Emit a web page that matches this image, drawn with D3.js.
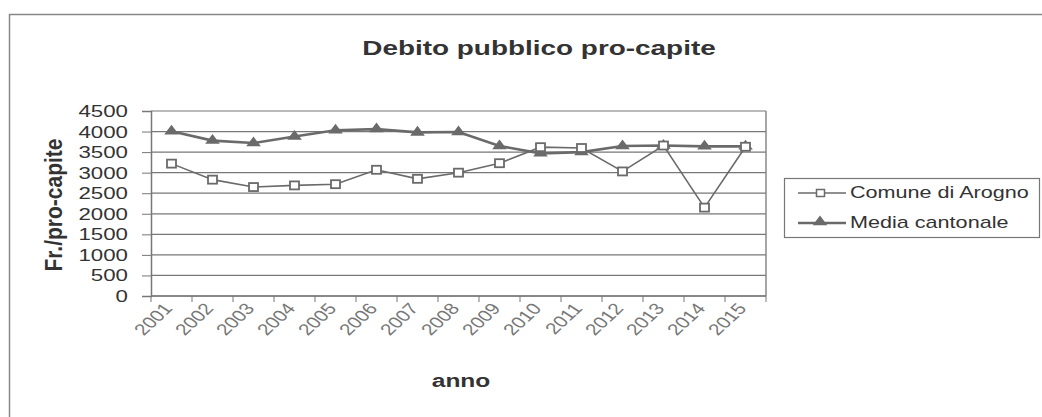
<!DOCTYPE html>
<html>
<head>
<meta charset="utf-8">
<script src="https://cdn.jsdelivr.net/npm/d3@7"></script>
<style>
  body { margin: 0; background: #fff; }
  svg { display: block; font-family: "Liberation Sans", Arial, sans-serif; }
</style>
</head>
<body>
<svg width="1042" height="417"></svg>
<script>
const years = ['2001','2002','2003','2004','2005','2006','2007','2008','2009','2010','2011','2012','2013','2014','2015'];
const arogno = [3220, 2830, 2650, 2690, 2720, 3070, 2850, 3000, 3230, 3620, 3600, 3030, 3660, 2150, 3630];
const media = [4010, 3780, 3720, 3880, 4030, 4060, 3980, 3990, 3650, 3470, 3500, 3650, 3660, 3640, 3640];
const yTicks = [0, 500, 1000, 1500, 2000, 2500, 3000, 3500, 4000, 4500];

const svg = d3.select('svg');
const margin = { left: 151, right: 276, top: 111, bottom: 121 };
const width = 1042 - margin.left - margin.right;
const height = 417 - margin.top - margin.bottom;
const ink = '#6a6a6a';
const stretch = 1.33; // the source text is wide, like a scanned page

// text inside a scaled group so glyphs come out wider than tall
function wideText(parent, x, y, sx, rot) {
  return parent.append('g')
    .attr('transform', `translate(${x},${y}) scale(${sx},1) rotate(${rot || 0})`)
    .append('text');
}

// outer chart frame (runs off the right and bottom edges)
svg.append('rect')
  .attr('x', 9.5).attr('y', 14.5)
  .attr('width', 1100).attr('height', 500)
  .attr('fill', 'none').attr('stroke', '#888').attr('stroke-width', 1.5);

wideText(svg, 539, 55, stretch)
  .attr('text-anchor', 'middle')
  .attr('font-size', 21).attr('font-weight', 'bold').attr('fill', '#333')
  .text('Debito pubblico pro-capite');

const g = svg.append('g').attr('transform', `translate(${margin.left},${margin.top})`);

const x = d3.scaleBand().domain(years).range([0, width]);
const y = d3.scaleLinear().domain([0, 4500]).range([height, 0]);

// gridlines
g.selectAll('.grid').data(yTicks).enter().append('line')
  .attr('x1', 0).attr('x2', width)
  .attr('y1', d => y(d)).attr('y2', d => y(d))
  .attr('stroke', '#777').attr('stroke-width', 1.2);

// plot border right side
g.append('line')
  .attr('x1', width).attr('x2', width).attr('y1', 0).attr('y2', height)
  .attr('stroke', '#888').attr('stroke-width', 1.5);

// y axis (labels drawn separately so they can be widened)
const yAxis = g.append('g')
  .call(d3.axisLeft(y).tickValues(yTicks).tickSize(9).tickFormat(''));
yAxis.select('.domain').attr('stroke', '#777').attr('stroke-width', 1.5);
yAxis.selectAll('.tick line').attr('stroke', '#777');
yTicks.forEach(d => {
  wideText(g, -23, y(d), 1.35)
    .attr('text-anchor', 'end').attr('dy', '0.36em')
    .attr('font-size', 16.5).attr('fill', '#333')
    .text(d3.format('d')(d));
});

// x axis: ticks at category boundaries
const xAxis = g.append('g').attr('transform', `translate(0,${height})`);
xAxis.append('line')
  .attr('x1', 0).attr('x2', width)
  .attr('stroke', '#777').attr('stroke-width', 1.5);
xAxis.selectAll('.xt').data(d3.range(years.length + 1)).enter().append('line')
  .attr('x1', i => i * x.bandwidth()).attr('x2', i => i * x.bandwidth())
  .attr('y1', 0).attr('y2', 6)
  .attr('stroke', '#777');
years.forEach(d => {
  wideText(xAxis, x(d) + x.bandwidth() / 2 + 2, 13, 1.3, -50)
    .attr('text-anchor', 'end')
    .attr('font-size', 16).attr('fill', '#777')
    .text(d);
});

wideText(svg, 461, 387, 1.29)
  .attr('text-anchor', 'middle')
  .attr('font-size', 19).attr('font-weight', 'bold').attr('fill', '#333')
  .text('anno');

wideText(svg, 62, 205, 1.15, -90)
  .attr('text-anchor', 'middle')
  .attr('font-size', 21).attr('font-weight', 'bold').attr('fill', '#333')
  .text('Fr./pro-capite');

const line = d3.line()
  .x((d, i) => x(years[i]) + x.bandwidth() / 2)
  .y(d => y(d));

g.append('path').datum(media)
  .attr('d', line).attr('fill', 'none')
  .attr('stroke', ink).attr('stroke-width', 2.6);
g.append('path').datum(arogno)
  .attr('d', line).attr('fill', 'none')
  .attr('stroke', ink).attr('stroke-width', 1.6);

const tri = d3.symbol().type(d3.symbolTriangle).size(55);
g.selectAll('.tri').data(media).enter().append('path')
  .attr('d', tri)
  .attr('transform', (d, i) => `translate(${x(years[i]) + x.bandwidth() / 2},${y(d)}) scale(1.3,1)`)
  .attr('fill', ink);

g.selectAll('.sq').data(arogno).enter().append('rect')
  .attr('x', (d, i) => x(years[i]) + x.bandwidth() / 2 - 4.5)
  .attr('y', d => y(d) - 4)
  .attr('width', 9).attr('height', 8)
  .attr('fill', '#fff').attr('stroke', ink).attr('stroke-width', 1.8);

// legend
const lg = svg.append('g');
lg.append('rect')
  .attr('x', 784.5).attr('y', 178.5).attr('width', 255).attr('height', 59)
  .attr('fill', '#fff').attr('stroke', '#777').attr('stroke-width', 1.2);
const items = [
  { name: 'Comune di Arogno', type: 'sq', w: 1.6 },
  { name: 'Media cantonale', type: 'tri', w: 2.4 }
];
items.forEach((it, i) => {
  const cy = 193 + i * 30;
  lg.append('line')
    .attr('x1', 798).attr('x2', 846).attr('y1', cy).attr('y2', cy)
    .attr('stroke', ink).attr('stroke-width', it.w);
  if (it.type === 'sq') {
    lg.append('rect').attr('x', 816.5).attr('y', cy - 3.5).attr('width', 8).attr('height', 7)
      .attr('fill', '#fff').attr('stroke', ink).attr('stroke-width', 1.5);
  } else {
    lg.append('path').attr('d', tri).attr('transform', `translate(820,${cy - 1}) scale(1.3,1)`).attr('fill', ink);
  }
  wideText(lg, 850, cy + 5, 1.35)
    .attr('font-size', 16).attr('fill', '#333')
    .text(it.name);
});
</script>
</body>
</html>
